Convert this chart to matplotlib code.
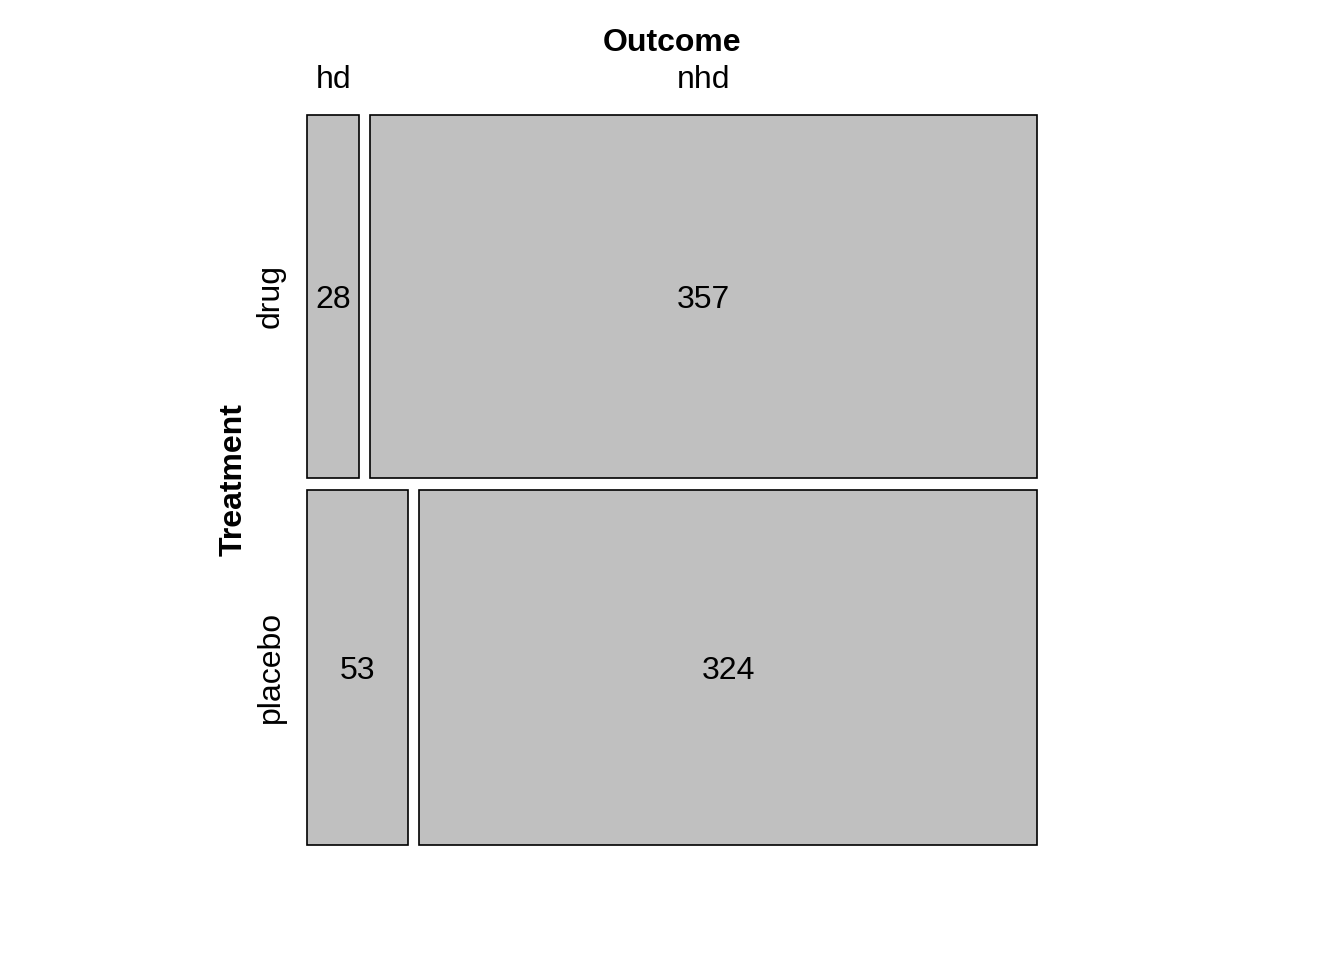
import matplotlib
matplotlib.use("Agg")
import matplotlib.pyplot as plt
from matplotlib.patches import Rectangle

plt.rcParams['font.family'] = ['Liberation Sans', 'DejaVu Sans']

# Treatment x Outcome counts
treatments = ["drug", "placebo"]
outcomes = ["hd", "nhd"]
counts = [[28, 357],
          [53, 324]]

FIG_W, FIG_H = 1344, 960
# mosaic area in pixels (left, top, right, bottom)
L, T, R, B = 307, 115, 1037, 845
GAP_X = 11 / (R - L)
GAP_Y = 12 / (B - T)
FS = 23

fig = plt.figure(figsize=(FIG_W / 100, FIG_H / 100), dpi=100)
ax = fig.add_axes([L / FIG_W, 1 - B / FIG_H, (R - L) / FIG_W, (B - T) / FIG_H])
ax.set_xlim(0, 1)
ax.set_ylim(1, 0)
ax.axis("off")

row_tot = [sum(r) for r in counts]
grand = sum(row_tot)
avail_h = 1 - GAP_Y * (len(treatments) - 1)
avail_w = 1 - GAP_X * (len(outcomes) - 1)

y = 0
for i, trt in enumerate(treatments):
    h = row_tot[i] / grand * avail_h
    x = 0
    for j, out in enumerate(outcomes):
        w = counts[i][j] / row_tot[i] * avail_w
        ax.add_patch(Rectangle((x, y), w, h, facecolor="#c0c0c0",
                               edgecolor="black", lw=1.2, clip_on=False))
        ax.text(x + w / 2, y + h / 2, str(counts[i][j]), ha="center",
                va="center_baseline", fontsize=FS)
        if i == 0:
            # column labels follow the top row
            ax.text(x + w / 2, -0.053, out, ha="center", va="center_baseline",
                    fontsize=FS)
        x += w + GAP_X
    ax.text(-0.05, y + h / 2, trt, ha="center", va="center",
            rotation=90, fontsize=FS)
    y += h + GAP_Y

ax.text(0.5, -0.104, "Outcome", ha="center", va="center_baseline",
        fontsize=FS, fontweight="bold")
ax.text(-0.1, 0.5, "Treatment", ha="center", va="center",
        rotation=90, fontsize=FS, fontweight="bold")

fig.savefig("out.png", dpi=100)
